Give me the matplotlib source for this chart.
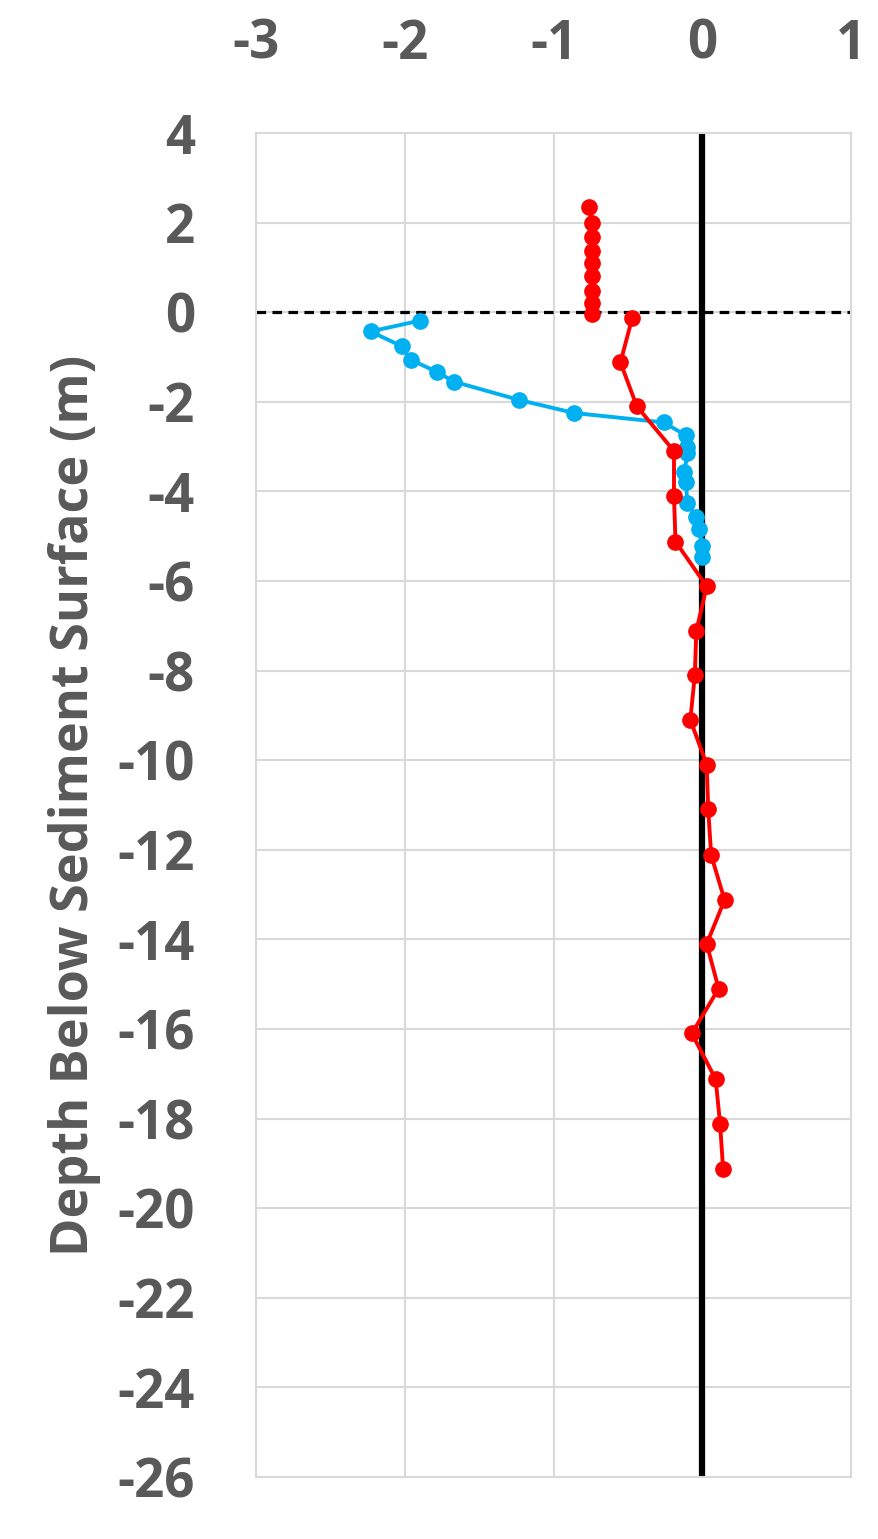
import matplotlib.pyplot as plt

# red profile above the sediment surface (water column)
red_top_x = [-0.76, -0.74, -0.74, -0.74, -0.74, -0.74, -0.74, -0.74, -0.74]
red_top_depth = [2.34, 2.0, 1.68, 1.36, 1.1, 0.8, 0.48, 0.2, -0.04]

# red profile below the surface
red_x = [-0.47, -0.55, -0.44, -0.19, -0.19, -0.18, 0.03, -0.04, -0.05, -0.08,
         0.03, 0.04, 0.06, 0.15, 0.03, 0.11, -0.07, 0.09, 0.12, 0.14]
red_depth = [-0.12, -1.12, -2.1, -3.1, -4.1, -5.12, -6.12, -7.12, -8.1, -9.1,
             -10.1, -11.1, -12.12, -13.12, -14.1, -15.1, -16.1, -17.12, -18.12, -19.12]

# blue profile
blue_x = [-1.90, -2.23, -2.02, -1.96, -1.78, -1.67, -1.23, -0.86, -0.26, -0.11,
          -0.10, -0.10, -0.12, -0.11, -0.10, -0.04, -0.02, 0.0, 0.0]
blue_depth = [-0.19, -0.43, -0.76, -1.06, -1.34, -1.55, -1.96, -2.25, -2.46, -2.75,
              -3.0, -3.15, -3.57, -3.79, -4.26, -4.58, -4.84, -5.21, -5.47]

x_ticks = [-3, -2, -1, 0, 1]
y_ticks = list(range(4, -27, -2))

grey = '#595959'
plt.rcParams['font.family'] = ['Open Sans', 'DejaVu Sans']
plt.rcParams['axes.unicode_minus'] = False

fig = plt.figure(figsize=(8.79, 15.39), dpi=100)
ax = fig.add_axes([256 / 879, 1 - 1477 / 1539, 595 / 879, 1344 / 1539])

ax.set_xlim(-3, 1)
ax.set_ylim(-26, 4)
ax.set_xticks(x_ticks)
ax.set_yticks(y_ticks)
ax.xaxis.tick_top()
ax.grid(True, color='#d9d9d9', linewidth=1.5)
ax.set_axisbelow(True)
for sp in ax.spines.values():
    sp.set_color('#d9d9d9')
    sp.set_linewidth(1.5)
ax.tick_params(length=0, labelsize=38, labelcolor=grey, pad=44)
ax.tick_params(axis='x', pad=44)
for lab in ax.get_xticklabels() + ax.get_yticklabels():
    lab.set_fontweight('bold')

ax.axvline(0, color='black', linewidth=4.5, zorder=2)
ax.axhline(0, color='black', linewidth=2.3, linestyle=(0, (3, 2)), zorder=2)

ax.plot(blue_x, blue_depth, '-o', color='#00b0f0', linewidth=2.8, markersize=11, zorder=3)
ax.plot(red_x, red_depth, '-o', color='#ff0000', linewidth=2.8, markersize=11, zorder=4)
ax.plot(red_top_x, red_top_depth, '-o', color='#ff0000', linewidth=2.8, markersize=11, zorder=4)

ax.set_ylabel('Depth Below Sediment Surface (m)', fontsize=37.5, fontweight='bold',
              color=grey, labelpad=12)

fig.savefig('out.png', dpi=100)
